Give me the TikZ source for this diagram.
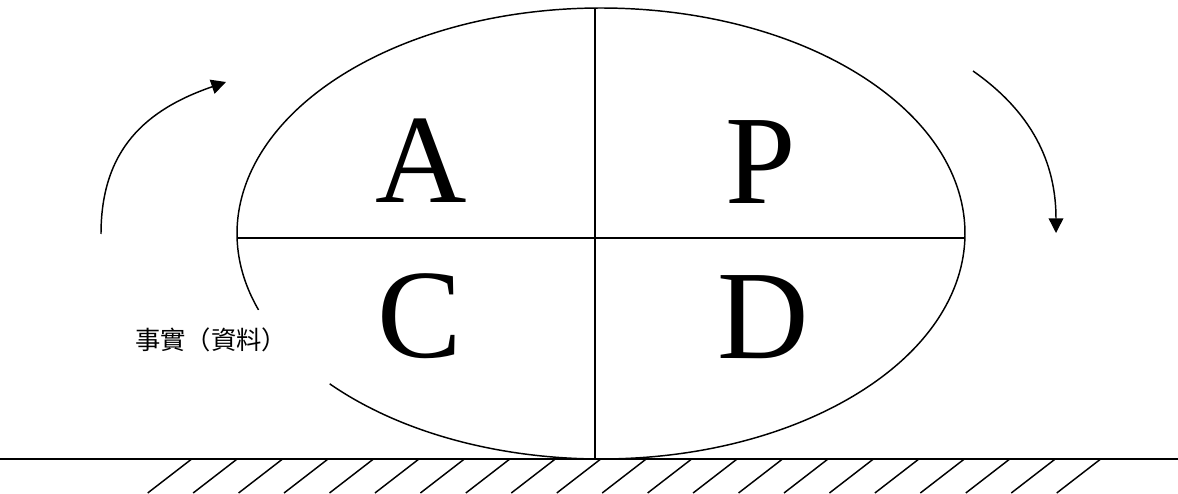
\documentclass[tikz,border=0pt]{standalone}
\usepackage{fontspec}
\setmainfont{Liberation Serif}
\newfontfamily\cjkfont{Noto Sans CJK TC}
\usetikzlibrary{arrows.meta,calc}

\begin{document}
\begin{tikzpicture}[x=.75pt,y=.75pt,line width=1.1pt,
    letter/.style={font=\fontsize{95}{95}\selectfont,inner sep=0pt,anchor=base},
    turn/.style={-{Triangle[length=11pt,width=11pt]}}]
  \useasboundingbox (0,0) rectangle (1178,493);
  \coordinate (ctr) at (601,259.5);
  % the ellipse, left open where the label sits
  \draw ($(ctr)+(221.8:364 and 225.5)$) arc[start angle=221.8,end angle=559.8,x radius=364,y radius=225.5];
  \coordinate (top) at (595,485);
  \coordinate (bot) at (595,34);
  \coordinate (west) at (237,255);
  \coordinate (east) at (965,255);
  \draw (top) -- (bot);
  \draw (west) -- (east);
  % ground
  \coordinate (g0) at (0,34);
  \coordinate (g1) at (1178,34);
  \draw (g0) -- (g1);
  \foreach \k in {0,...,20}
    \draw (191.7+45.45*\k,34) -- ++(-44,-34);
  \node[letter] (A) at (421,290) {A};
  \node[letter] (P) at (761,289) {P};
  \node[letter] (C) at (420,135) {C};
  \node[letter] (D) at (763,134) {D};
  \node[font=\cjkfont\fontsize{19}{19}\selectfont,inner sep=0pt] (fact) at (211,153) {事實（資料）};
  % turning arrows
  \coordinate (l0) at (101,259);
  \coordinate (l1) at (226,411);
  \draw[turn] (l0) to[out=90,in=199,looseness=1.1] (l1);
  \coordinate (r0) at (973,422);
  \coordinate (r1) at (1056,260);
  \draw[turn] (r0) to[out=-35,in=90] (r1);
\end{tikzpicture}
\end{document}
